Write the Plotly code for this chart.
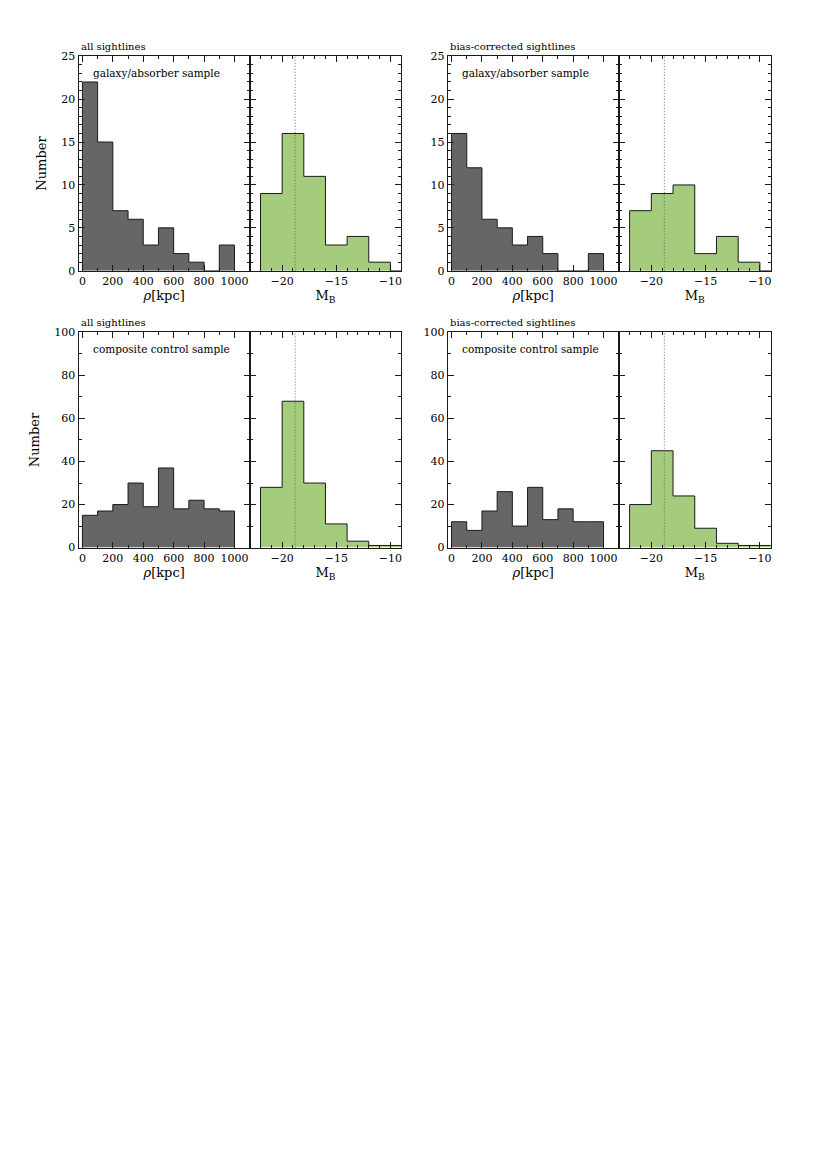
import numpy as np
import plotly.graph_objects as go

# bin edges
rho_edges = [0, 100, 200, 300, 400, 500, 600, 700, 800, 900, 1000]
mb_edges = [-22, -20, -18, -16, -14, -12, -10, -8]

# counts
rho_gal_all = [22, 15, 7, 6, 3, 5, 2, 1, 0, 3]
mb_gal_all = [9, 16, 11, 3, 4, 1, 0]
rho_gal_bias = [16, 12, 6, 5, 3, 4, 2, 0, 0, 2]
mb_gal_bias = [7, 9, 10, 2, 4, 1, 0]
rho_ctl_all = [15, 17, 20, 30, 19, 37, 18, 22, 18, 17]
mb_ctl_all = [28, 68, 30, 11, 3, 1, 1]
rho_ctl_bias = [12, 8, 17, 26, 10, 28, 13, 18, 12, 12]
mb_ctl_bias = [20, 45, 24, 9, 2, 1, 1]

m_star = -18.8  # dotted reference line

set_labels = ["all sightlines", "bias-corrected sightlines"]
sample_labels = ["galaxy/absorber sample", "composite control sample"]

# page is 827x1168, the browser puts an 8px body margin round the figure
OFF = 8
W, H = 827 - 2 * OFF, 1168 - 2 * OFF
FONT = "DejaVu Serif"
INK = "#1a1a1a"
GRAY = "#666666"
GREEN = "#a4cc7c"

# panel frames in page pixels
col_x = [(78.7, 250.0, 401.7), (448.3, 619.5, 771.7)]
row_y = [(50.7, 267.7), (330.0, 547.7)]
y_max = [25, 100]
y_dtick = [5, 20]
y_minor = [1, 10]


def step_xy(edges, counts):
    # outline of a histogram as a closed step line
    e = np.asarray(edges, dtype=float)
    c = np.asarray(counts, dtype=float)
    x = np.concatenate([[e[0]], e[:-1], [e[-1], e[-1]]])
    y = np.concatenate([[0], c, [c[-1], 0]])
    return x, y


def px_x(v):
    return (v - OFF) / W


def px_y(v):
    return 1 - (v - OFF) / H


fig = go.Figure()

hists = [
    [(rho_gal_all, mb_gal_all), (rho_gal_bias, mb_gal_bias)],
    [(rho_ctl_all, mb_ctl_all), (rho_ctl_bias, mb_ctl_bias)],
]

axis_base = dict(showline=True, linecolor=INK, linewidth=1.2, mirror="allticks",
                 ticks="inside", ticklen=6, tickwidth=1, tickcolor=INK,
                 showgrid=False, zeroline=False,
                 tickfont=dict(family=FONT, size=11, color="#000000"))

n = 0
for r in range(2):
    y_top, y_bot = row_y[r]
    for c in range(2):
        x0, xm, x1 = col_x[c]
        rho_counts, mb_counts = hists[r][c]
        for side in range(2):
            n += 1
            sfx = "" if n == 1 else str(n)
            if side == 0:
                edges, counts, color = rho_edges, rho_counts, GRAY
                dom = [px_x(x0), px_x(xm)]
                xr = [-25, 1100]
                xtick = dict(dtick=200, tick0=0)
                xminor = 100
                xtitle = "<i>ρ</i>[kpc]"
            else:
                edges, counts, color = mb_edges, mb_counts, GREEN
                dom = [px_x(xm), px_x(x1)]
                xr = [-23, -9]
                xtick = dict(dtick=5, tick0=0)
                xminor = 1
                xtitle = "M<sub>B</sub>"
            sx, sy = step_xy(edges, counts)
            fig.add_trace(go.Scatter(x=sx, y=sy, mode="lines", line_shape="hv",
                                     fill="tozeroy", fillcolor=color,
                                     line=dict(color=INK, width=1),
                                     xaxis="x" + sfx, yaxis="y" + sfx,
                                     showlegend=False, hoverinfo="skip"))
            fig.layout["xaxis" + sfx] = dict(
                axis_base, domain=dom, range=xr, anchor="y" + sfx, **xtick,
                minor=dict(ticks="inside", ticklen=3, dtick=xminor, tickcolor=INK),
                title=dict(text=xtitle, standoff=2,
                           font=dict(family=FONT, size=13, color="#000000")))
            fig.layout["yaxis" + sfx] = dict(
                axis_base, domain=[px_y(y_bot), px_y(y_top)], range=[0, y_max[r]],
                anchor="x" + sfx, dtick=y_dtick[r], tick0=0,
                showticklabels=(side == 0),
                minor=dict(ticks="inside", ticklen=3, dtick=y_minor[r], tickcolor=INK),
                title=dict(text="Number" if (side == 0 and c == 0) else "",
                           standoff=11, font=dict(family=FONT, size=13, color="#000000")))
            if side == 1:
                fig.add_shape(type="line", x0=m_star, x1=m_star, y0=0, y1=1,
                              xref="x" + sfx, yref="y" + sfx + " domain",
                              line=dict(color="#666666", width=1, dash="1px,2px"))
        fig.add_annotation(text=set_labels[c], x=px_x(x0), y=px_y(y_top - 2),
                           xref="paper", yref="paper", xanchor="left", yanchor="bottom",
                           showarrow=False, font=dict(family=FONT, size=10, color="#000000"))
        fig.add_annotation(text=sample_labels[r], x=px_x(x0 + 12), y=px_y(y_top + 17),
                           xref="paper", yref="paper", xanchor="left", yanchor="middle",
                           showarrow=False, font=dict(family=FONT, size=10.5, color="#000000"))

fig.update_layout(width=W, height=H, margin=dict(l=0, r=0, t=0, b=0),
                  paper_bgcolor="white", plot_bgcolor="white")

fig.write_html("out.html")
